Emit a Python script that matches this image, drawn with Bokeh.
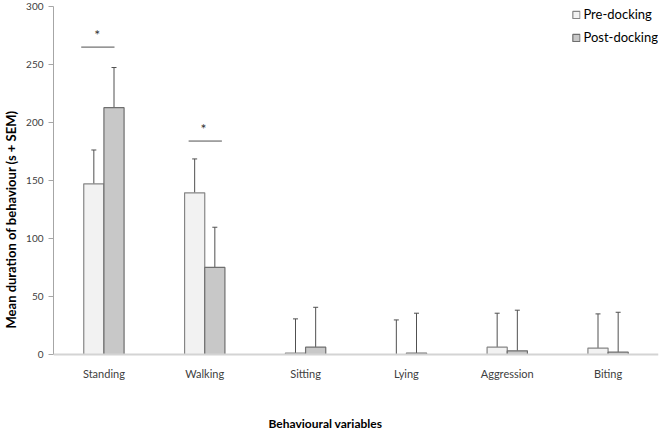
from bokeh.plotting import figure
from bokeh.models import ColumnDataSource, Whisker, TeeHead, Legend, LegendItem, Label, Span, FactorRange, Range1d, FixedTicker
from bokeh.transform import dodge
from bokeh.core.properties import value
from bokeh.embed import file_html
from bokeh.resources import INLINE

categories = ["Standing", "Walking", "Sitting", "Lying", "Aggression", "Biting"]
pre = [147.1, 139.4, 1.2, 0.0, 6.3, 5.5]
post = [212.8, 75.1, 6.3, 1.2, 3.2, 2.0]
pre_sem = [29.2, 29.2, 29.5, 29.8, 29.3, 29.5]
post_sem = [34.6, 34.6, 34.4, 34.4, 35.0, 34.4]

y_ticks = [0, 50, 100, 150, 200, 250, 300]

sig_cats = ["Standing", "Walking"]
sig_line_y = [265, 184]
sig_star_y = [276, 195]
sig_left = [-0.225, -0.16]
sig_right = [0.105, 0.17]
sig_star_off = [-0.066, -0.013]

FONT = "Lato"
BAR_W = 0.2
# frame runs from 6px to 432px; value 0 sits 78px above the bottom
Y_LOW = -300 * 78 / 348

src = ColumnDataSource(dict(
    cat=categories, pre=pre, post=post,
    pre_top=[v + e for v, e in zip(pre, pre_sem)],
    post_top=[v + e for v, e in zip(post, post_sem)],
))

p = figure(x_range=FactorRange(*categories), y_range=Range1d(Y_LOW, 300),
           width=661, height=432, output_backend="svg", toolbar_location=None,
           x_axis_location=None,
           min_border_left=52, min_border_right=3, min_border_top=6, min_border_bottom=0)
p.x_range.range_padding = 0
p.outline_line_color = None
p.grid.visible = False
p.background_fill_color = "white"

# x axis line at zero
p.add_layout(Span(location=0, dimension="width", line_color="#d4d4d4", line_width=2))

r_pre = p.vbar(x=dodge("cat", -BAR_W / 2, range=p.x_range), top="pre", width=BAR_W, source=src,
               fill_color="#f2f2f2", line_color="#858585", line_width=1.2)
r_post = p.vbar(x=dodge("cat", BAR_W / 2, range=p.x_range), top="post", width=BAR_W, source=src,
                fill_color="#c8c8c8", line_color="#6e6e6e", line_width=1.2)

for off, lo, hi in [(-BAR_W / 2, "pre", "pre_top"), (BAR_W / 2, "post", "post_top")]:
    w = Whisker(base=dodge("cat", off, range=p.x_range), lower=lo, upper=hi, source=src,
                dimension="height", line_color="#505050", line_width=1,
                upper_head=TeeHead(size=5, line_color="#505050", line_width=1), lower_head=None)
    p.add_layout(w)

for c, yl, ys, l, r, s in zip(sig_cats, sig_line_y, sig_star_y, sig_left, sig_right, sig_star_off):
    one = ColumnDataSource(dict(cat=[c], y=[yl], ys=[ys]))
    p.segment(x0=dodge("cat", l, range=p.x_range), x1=dodge("cat", r, range=p.x_range),
              y0="y", y1="y", source=one, line_color="#505050", line_width=1)
    p.text(x=dodge("cat", s, range=p.x_range), y="ys", text=value("*"), source=one,
           text_align="center", text_baseline="middle", text_font=value(FONT),
           text_font_size="14px", text_color="#333333")

# category labels under the zero line
p.text(x="cat", y=0, text="cat", source=src, y_offset=19,
       text_align="center", text_baseline="middle", text_font=value(FONT),
       text_font_size="11px", text_color="#404040")

# y axis
p.yaxis.bounds = (0, 300)
p.yaxis.ticker = FixedTicker(ticks=y_ticks)
p.yaxis.axis_line_color = "#a6a6a6"
p.yaxis.major_tick_line_color = "#a6a6a6"
p.yaxis.major_tick_out = 5
p.yaxis.major_tick_in = 0
p.yaxis.minor_tick_line_color = None
p.yaxis.major_label_text_font = FONT
p.yaxis.major_label_text_font_size = "10px"
p.yaxis.major_label_text_color = "#404040"
p.yaxis.major_label_standoff = 5
p.yaxis.axis_label = "Mean duration of behaviour (s + SEM)"
p.yaxis.axis_label_text_font = FONT
p.yaxis.axis_label_text_font_style = "bold"
p.yaxis.axis_label_text_font_size = "13px"
p.yaxis.axis_label_text_color = "#000000"
p.yaxis.axis_label_standoff = 4

p.add_layout(Label(text="Behavioural variables", x=215, y=9, x_units="screen", y_units="screen",
                   text_align="left", text_baseline="middle",
                   text_font=FONT, text_font_style="bold", text_font_size="12px",
                   text_color="#000000"))

legend = Legend(items=[LegendItem(label="Pre-docking", renderers=[r_pre]),
                       LegendItem(label="Post-docking", renderers=[r_post])],
                location="top_right", glyph_width=9, glyph_height=9,
                label_text_font=FONT, label_text_font_size="13px", label_text_color="#000000",
                border_line_color=None, background_fill_alpha=0, padding=0, margin=0,
                spacing=7, label_standoff=3, label_height=12)
p.add_layout(legend)

open("out.html", "w").write(file_html(p, INLINE))
